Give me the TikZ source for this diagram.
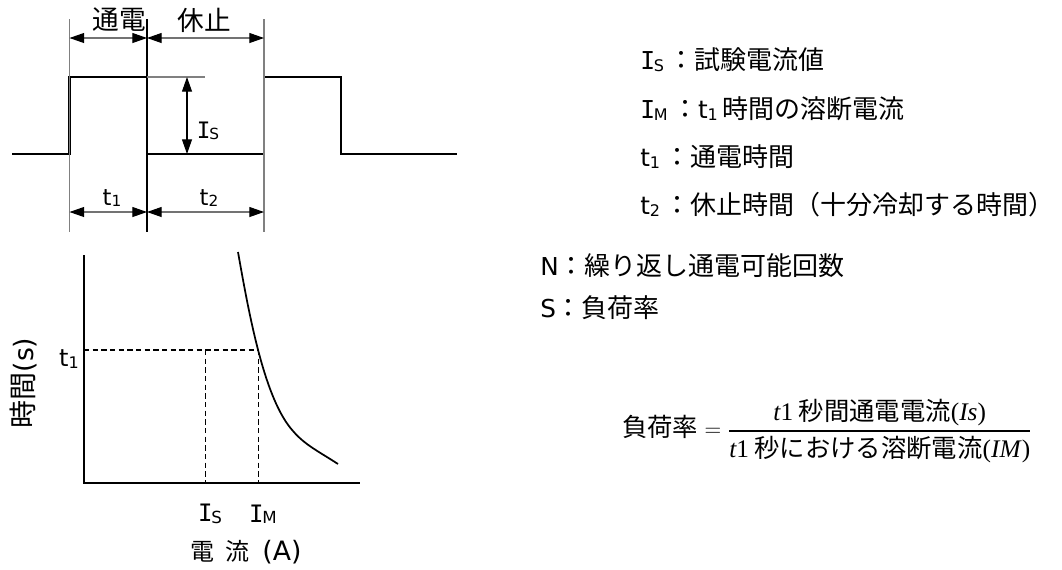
\documentclass[tikz,border=0pt]{standalone}
\usepackage{fontspec}
\setmainfont{Noto Sans CJK JP}
\newfontfamily\serifmath{Liberation Serif}
\newfontfamily\lat{DejaVu Sans}
\newfontfamily\latI{DejaVu Sans Mono}
\usetikzlibrary{arrows.meta}
% Latin letter with small letter on baseline
\newcommand\LS[4]{{\lat\fontsize{#1pt}{#1pt}\selectfont #2\raisebox{-1pt}{\fontsize{#3pt}{#3pt}\selectfont #4}}}
\newcommand\IS[3]{{\latI\fontsize{#1pt}{#1pt}\selectfont I\kern-0.05em\lat\raisebox{-1pt}{\fontsize{#2pt}{#2pt}\selectfont #3}}}
\newcommand\LT[2]{{\lat\fontsize{#1pt}{#1pt}\selectfont #2}}
\begin{document}
\begin{tikzpicture}[x=0.75pt,y=-0.75pt,
  lbl/.style={font=\fontsize{19.5pt}{22pt}\selectfont, inner sep=0pt},
  plbl/.style={font=\fontsize{20pt}{22pt}\selectfont, inner sep=0pt},
  pulse/.style={line width=1.6pt, line join=miter},
  guide/.style={draw=black!50, line width=0.8pt},
  dim/.style={draw=black!55, line width=0.8pt, {Triangle[length=11pt,width=7.5pt,black]}-{Triangle[length=11pt,width=7.5pt,black]}},
  axis/.style={line width=1.5pt},
  dsh/.style={line width=0.8pt, dash pattern=on 4pt off 2.5pt}]
\useasboundingbox (0,0) rectangle (1062,569);

% ---- pulse diagram ----
\coordinate (p0) at (12,154);
\coordinate (p1) at (69.5,154);
\coordinate (p2) at (69.5,77);
\coordinate (p3) at (147,77);
\coordinate (p4) at (147,154);
\coordinate (p5) at (264,154);
\coordinate (p6) at (264,77);
\coordinate (p7) at (341,77);
\coordinate (p8) at (341,154);
\coordinate (p9) at (457,154);
\draw[pulse] (p0) -- (p1) -- (p2) -- (p3) -- (p4) -- (p5) -- (p6) -- (p7) -- (p8) -- (p9);

\coordinate (ga) at (69.5,19);  \coordinate (gaa) at (69.5,232);
\coordinate (gb) at (147,19);   \coordinate (gbb) at (147,232);
\coordinate (gc) at (264,19);   \coordinate (gcc) at (264,232);
\draw[guide] (ga) -- (gaa);
\draw[line width=0.8pt] (gb) -- (gbb);
\draw[guide] (gc) -- (gcc);
\coordinate (hl) at (205,77);
\draw[guide] (p3) -- (hl);

\coordinate (ta) at (69.5,38); \coordinate (tb) at (147,38); \coordinate (tc) at (264,38);
\draw[dim] (ta) -- (tb);
\draw[dim] (tb) -- (tc);
\coordinate (ba) at (69.5,212); \coordinate (bb) at (147,212); \coordinate (bc) at (264,212);
\draw[dim] (ba) -- (bb);
\draw[dim] (bb) -- (bc);
\coordinate (va) at (187,77); \coordinate (vb) at (187,154);
\draw[line width=0.8pt, {Triangle[length=11pt,width=7.5pt]}-{Triangle[length=11pt,width=7.5pt]}] (va) -- (vb);

\node[plbl] (tsuden) at (119,20) {通電};
\node[plbl] (kyushi) at (204,20) {休止};
\node[plbl] (isp) at (208,131) {\IS{17}{11.5}{S}};
\node[plbl] (t1p) at (112,198) {\LS{17}{t}{11.5}{1}};
\node[plbl] (t2p) at (209,198) {\LS{17}{t}{11.5}{2}};

% ---- graph ----
\coordinate (yt) at (84,255);
\coordinate (o) at (84,483);
\coordinate (xr) at (360,483);
\draw[axis] (yt) -- (o) -- (xr);
\draw[line width=1.3pt] (238,252) .. controls (250,320) and (265,400) .. (293,431)
   .. controls (305,445) and (318,451) .. (338,464);
\coordinate (d0) at (84,350);
\coordinate (dm) at (258.5,350);
\coordinate (ds) at (205.7,350);
\coordinate (dsb) at (205.7,483);
\coordinate (dmb) at (258.5,483);
\draw[dsh] (d0) -- (dm);
\draw[dsh] (ds) -- (dsb);
\draw[dsh] (dm) -- (dmb);
\node[plbl] (t1g) at (69,359) {\LS{18}{t}{12}{1}};
\node[lbl, rotate=90, font=\fontsize{21pt}{22pt}\selectfont] (yl) at (23,383) {時間\LT{20}{(s)}};
\node[plbl] (isg) at (210,514) {\IS{18}{12.5}{S}};
\node[plbl] (img) at (263,514) {\IS{18}{12.5}{M}};
\node[lbl, font=\fontsize{18pt}{20pt}\selectfont] (xl) at (246,552) {電\hspace{0.45em}流\hspace{0.55em}\LT{20}{(A)}};

% ---- legend ----
\node[lbl, anchor=west] (l1) at (640,60) {\IS{18.5}{12}{S}\,：試験電流値};
\node[lbl, anchor=west] (l2) at (640,109) {\IS{18.5}{12}{M}\,：\LS{18.5}{t}{12}{1}\,時間の溶断電流};
\node[lbl, anchor=west] (l3) at (640,157) {\LS{18.5}{t}{12}{1}\,：通電時間};
\node[lbl, anchor=west] (l4) at (640,205) {\LS{18.5}{t}{12}{2}\,：休止時間（十分冷却する時間）};
\node[lbl, anchor=west] (l5) at (540,266) {\LT{18.5}{N}：繰り返し通電可能回数};
\node[lbl, anchor=west] (l6) at (540,308) {\LT{18.5}{S}：負荷率};

% ---- formula ----
\node[lbl, anchor=west, font=\fontsize{19pt}{21pt}\selectfont] (fm) at (622,431)
  {負荷率$\;=\;$$\displaystyle{\hbox{{\serifmath\itshape t}{\serifmath 1} 秒間通電電流{\serifmath (\itshape Is\/\upshape )}}\above 1.1pt \hbox{{\serifmath\itshape t}{\serifmath 1} 秒における溶断電流{\serifmath (\itshape IM\/\upshape )}}}$};
\end{tikzpicture}
\end{document}
